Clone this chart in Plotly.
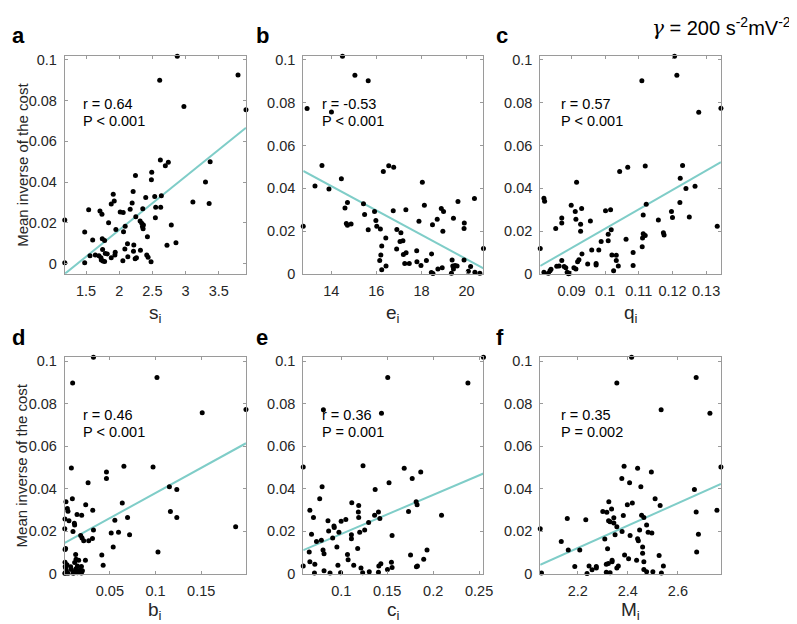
import plotly.graph_objects as go

# ---------------- data ----------------
# panel a : s_i
s_i = [1.18, 1.18, 2.875, 2.61, 3.79, 3.91, 2.975, 3.37, 2.62, 2.74, 2.695, 2.245, 2.49, 2.485, 3.30, 2.21,
       3.11, 3.355, 1.91, 1.925, 1.88, 2.195, 2.40, 2.535, 2.635, 1.54, 1.71, 1.74, 2.015, 2.06, 2.165, 2.355,
       2.55, 2.625, 2.25, 2.545, 2.315, 2.34, 2.365, 2.35, 2.36, 1.84, 1.95, 2.09, 2.065, 2.785, 1.48, 1.60,
       1.745, 1.78, 2.425, 2.125, 2.72, 2.855, 2.085, 2.22, 2.215, 2.32, 1.75, 1.79, 1.82, 1.94, 1.935, 1.56,
       1.64, 1.695, 1.725, 1.88, 2.13, 2.24, 2.26, 2.415, 2.435, 1.73, 1.755, 1.78, 1.48, 2.055, 2.48]
cost_s = [0.0214, 0.0005, 0.1018, 0.090, 0.0926, 0.0755, 0.0771, 0.050, 0.0509, 0.0498, 0.048, 0.0432, 0.0448,
          0.0412, 0.0401, 0.0354, 0.0303, 0.0295, 0.0341, 0.0308, 0.0293, 0.0298, 0.0325, 0.0329, 0.0333, 0.0264,
          0.0258, 0.0243, 0.0254, 0.0251, 0.0267, 0.0269, 0.0277, 0.0277, 0.023, 0.0225, 0.0209, 0.0198, 0.019,
          0.0182, 0.0171, 0.0201, 0.0167, 0.0184, 0.0156, 0.019, 0.0155, 0.0116, 0.0122, 0.0114, 0.0132, 0.0098,
          0.009, 0.0103, 0.0072, 0.0092, 0.0061, 0.0066, 0.0069, 0.005, 0.0048, 0.0056, 0.0043, 0.0039, 0.0042,
          0.0039, 0.0029, 0.0029, 0.0034, 0.0024, 0.0029, 0.0042, 0.0032, 0.0018, 0.0013, 0.0011, 0.0005, 0.0014,
          0.001]

# panel b : e_i
e_i = [14.50, 15.05, 15.64, 12.93, 14.01, 13.59, 13.28, 13.90, 14.45, 14.72, 14.61, 14.67, 14.72, 14.88, 12.76,
       15.43, 15.48, 15.64, 15.92, 15.98, 16.02, 16.18, 16.31, 16.55, 16.77, 16.75, 16.42, 16.24, 16.20, 16.15,
       16.24, 16.43, 16.91, 17.09, 17.05, 17.18, 16.90, 17.20, 17.32, 17.26, 17.46, 17.31, 17.79, 17.80, 17.89,
       17.98, 18.04, 18.13, 18.22, 18.45, 18.49, 18.70, 18.44, 18.51, 18.88, 18.98, 18.95, 18.73, 18.92, 19.42,
       19.62, 19.36, 19.39, 19.49, 19.58, 19.42, 19.33, 19.90, 19.89, 19.89, 20.08, 20.18, 20.35, 20.37, 20.59,
       20.75]
cost_e = [0.1018, 0.0929, 0.0903, 0.0773, 0.0757, 0.0507, 0.0411, 0.0397, 0.0445, 0.0334, 0.0308, 0.0235,
          0.0227, 0.0233, 0.0223, 0.0328, 0.0277, 0.0206, 0.0292, 0.025, 0.0223, 0.021, 0.0479, 0.0505, 0.0498,
          0.0295, 0.0168, 0.013, 0.0088, 0.0062, 0.0019, 0.0037, 0.0207, 0.0192, 0.0151, 0.0155, 0.0116, 0.0091,
          0.0099, 0.0049, 0.0048, 0.030, 0.0108, 0.0057, 0.0246, 0.0039, 0.0428, 0.0321, 0.0062, 0.0093, 0.023,
          0.0255, 0.0006, 0.0002, 0.0306, 0.0291, 0.0199, 0.0023, 0.0028, 0.026, 0.0338, 0.0065, 0.0037, 0.0039,
          0.0037, 0.0023, 0.0003, 0.0238, 0.0212, 0.0065, 0.0012, 0.0034, 0.0352, 0.0008, 0.0003, 0.0119]

# panel c : q_i
q_i = [0.1206, 0.1213, 0.1109, 0.1278, 0.1344, 0.1230, 0.1119, 0.1067, 0.1043, 0.0915, 0.1223, 0.1240, 0.1267,
       0.0818, 0.0820, 0.0899, 0.0930, 0.0911, 0.1001, 0.1016, 0.1122, 0.1222, 0.0871, 0.0871, 0.0913, 0.0956,
       0.0927, 0.1113, 0.1158, 0.1197, 0.1200, 0.1250, 0.1333, 0.0853, 0.0927, 0.1018, 0.1009, 0.1009, 0.0988,
       0.1062, 0.1113, 0.1119, 0.1111, 0.1110, 0.1173, 0.1175, 0.0807, 0.0960, 0.0981, 0.0931, 0.1020, 0.1033,
       0.1083, 0.0871, 0.0918, 0.0922, 0.1033, 0.0948, 0.0973, 0.0973, 0.1039, 0.1083, 0.0856, 0.0863, 0.0878,
       0.0883, 0.0907, 0.0913, 0.1025, 0.0836, 0.0839, 0.0831, 0.0818, 0.0887, 0.0891, 0.0894]
cost_q = [0.1018, 0.0929, 0.0903, 0.0756, 0.0774, 0.0507, 0.0504, 0.0498, 0.0479, 0.0428, 0.0447, 0.0399, 0.041,
          0.0354, 0.034, 0.0321, 0.0306, 0.0291, 0.0295, 0.030, 0.0326, 0.0334, 0.0261, 0.0238, 0.0255, 0.0247,
          0.0232, 0.0275, 0.0252, 0.0292, 0.0264, 0.0266, 0.0223, 0.0212, 0.0199, 0.0206, 0.0185, 0.0155, 0.0151,
          0.0162, 0.0187, 0.0179, 0.0168, 0.0127, 0.0192, 0.0182, 0.0119, 0.0111, 0.0111, 0.0093, 0.0088, 0.0087,
          0.010, 0.0063, 0.0057, 0.0066, 0.0062, 0.0046, 0.0049, 0.0042, 0.0037, 0.0039, 0.0036, 0.0037, 0.0034,
          0.0028, 0.0028, 0.0023, 0.0015, 0.0015, 0.0022, 0.0003, 0.0008, 0.0008, 0.0, 0.0003]

# panel d : b_i
b_i = [0.0321, 0.0093, 0.1016, 0.1511, 0.1990, 0.0654, 0.0973, 0.0079, 0.0463, 0.0463, 0.0262, 0.1152, 0.1233,
       0.0090, 0.0020, 0.0236, 0.0636, 0.0313, 0.0035, 0.0042, 0.1163, 0.0141, 0.0192, 0.0009, 0.0694, 0.1233,
       0.0555, 0.0053, 0.0112, 0.0115, 0.0097, 0.0321, 0.0007, 0.0515, 0.0595, 0.0181, 0.0196, 0.0214, 0.0269,
       0.0310, 0.0716, 0.1877, 0.0010, 0.0016, 0.0537, 0.1027, 0.0412, 0.0126, 0.0130, 0.0159, 0.0010, 0.0233,
       0.0031, 0.0115, 0.0427, 0.0012, 0.0015, 0.0071, 0.0145, 0.0189, 0.0079, 0.0130, 0.0170, 0.0024, 0.0115,
       0.0013, 0.0008, 0.0042, 0.0145, 0.0189, 0.0100, 0.0200]
cost_b = [0.1018, 0.0897, 0.0923, 0.0757, 0.0773, 0.0506, 0.0503, 0.0498, 0.0479, 0.0448, 0.0428, 0.041, 0.0397,
          0.0353, 0.0339, 0.0325, 0.0333, 0.0299, 0.0307, 0.0295, 0.0293, 0.0279, 0.0276, 0.0258, 0.0265, 0.0265,
          0.0252, 0.025, 0.0238, 0.023, 0.020, 0.0207, 0.0212, 0.0193, 0.0196, 0.0181, 0.0169, 0.0156, 0.0156,
          0.0167, 0.0184, 0.0222, 0.0115, 0.012, 0.0127, 0.0103, 0.0089, 0.0092, 0.0069, 0.0064, 0.0055, 0.0064,
          0.0043, 0.0054, 0.0041, 0.0035, 0.003, 0.0034, 0.0038, 0.0035, 0.0021, 0.0025, 0.0018, 0.0017, 0.0011,
          0.0005, 0.0003, 0.0003, 0.0006, 0.0005, 0.0003, 0.0015]

# panel e : c_i
c_i = [0.2547, 0.1506, 0.2378, 0.0806, 0.1438, 0.0587, 0.1237, 0.1685, 0.1865, 0.1772, 0.1520, 0.0792, 0.1369,
       0.0766, 0.0659, 0.1115, 0.1190, 0.1815, 0.1825, 0.1732, 0.2091, 0.0698, 0.1050, 0.1186, 0.1190, 0.1405,
       0.1420, 0.1363, 0.0856, 0.0999, 0.0921, 0.0924, 0.0863, 0.0975, 0.1201, 0.1255, 0.1298, 0.0677, 0.0731,
       0.0784, 0.0907, 0.1111, 0.1111, 0.1553, 0.0953, 0.1179, 0.0652, 0.0802, 0.0813, 0.1068, 0.1075, 0.1933,
       0.1754, 0.1897, 0.0587, 0.0659, 0.0713, 0.0964, 0.1136, 0.1215, 0.1409, 0.1431, 0.1546, 0.1553, 0.1503,
       0.1818, 0.1829, 0.0709, 0.0813, 0.0878, 0.0993, 0.1233, 0.1305, 0.1405]
cost_c = [0.1018, 0.0923, 0.0897, 0.0771, 0.0755, 0.0503, 0.0508, 0.0497, 0.0479, 0.0448, 0.0428, 0.041, 0.0397,
          0.0353, 0.0299, 0.0334, 0.0322, 0.0339, 0.0325, 0.0294, 0.0276, 0.0265, 0.0256, 0.0291, 0.0265, 0.0291,
          0.0261, 0.0276, 0.025, 0.0248, 0.0225, 0.0218, 0.0202, 0.0196, 0.0196, 0.0207, 0.0242, 0.0187, 0.0153,
          0.0158, 0.0169, 0.0166, 0.0184, 0.0181, 0.0127, 0.012, 0.0103, 0.0113, 0.0095, 0.0092, 0.0067, 0.0113,
          0.0089, 0.0069, 0.0038, 0.0058, 0.0046, 0.0041, 0.0041, 0.0028, 0.0037, 0.0048, 0.0055, 0.0031, 0.0021,
          0.0034, 0.0038, 0.0005, 0.0015, 0.0005, 0.0006, 0.0006, 0.0011, 0.0008]

# panel f : M_i
M_i = [2.415, 2.356, 2.673, 2.533, 2.728, 2.772, 2.385, 2.439, 2.494, 2.376, 2.407, 2.452, 2.666, 2.509, 2.324,
       2.398, 2.418, 2.529, 2.335, 2.300, 2.316, 2.673, 2.756, 2.382, 2.455, 2.464, 2.158, 2.232, 2.323, 2.329,
       2.344, 2.344, 2.356, 2.475, 2.377, 2.447, 2.481, 2.496, 2.050, 2.349, 2.409, 2.682, 2.308, 2.439, 2.442,
       2.134, 2.162, 2.208, 2.319, 2.459, 2.675, 2.387, 2.459, 2.525, 2.403, 2.337, 2.435, 2.337, 2.464, 2.314,
       2.322, 2.188, 2.245, 2.274, 2.274, 2.257, 2.362, 2.356, 2.542, 2.464, 2.475, 2.055, 2.237, 2.314, 2.329,
       2.500, 2.534]
cost_M = [0.1018, 0.0897, 0.0923, 0.0771, 0.0755, 0.0503, 0.0506, 0.0497, 0.0479, 0.0448, 0.0428, 0.041, 0.0397,
          0.0353, 0.0339, 0.0325, 0.0333, 0.0322, 0.0305, 0.0294, 0.029, 0.0291, 0.0299, 0.0275, 0.0276, 0.0265,
          0.0261, 0.0255, 0.025, 0.0245, 0.0264, 0.0239, 0.0222, 0.023, 0.0199, 0.0206, 0.0196, 0.0193, 0.0212,
          0.0184, 0.0181, 0.0187, 0.0164, 0.0166, 0.0156, 0.0153, 0.0113, 0.0113, 0.0118, 0.0127, 0.0103, 0.0089,
          0.0097, 0.0087, 0.0071, 0.0064, 0.0064, 0.0058, 0.0057, 0.0046, 0.0049, 0.0035, 0.0038, 0.0035, 0.0028,
          0.002, 0.0038, 0.0028, 0.0038, 0.0021, 0.0011, 0.0005, 0.0002, 0.0008, 0.0006, 0.0011, 0.0005]

# regression lines (x ends, y ends)
fit_s = ([1.18, 3.91], [-0.005, 0.0667])
fit_e = ([12.76, 20.75], [0.0481, 0.0026])
fit_q = ([0.0807, 0.1344], [0.0037, 0.0522])
fit_b = ([0.0007, 0.1990], [0.0146, 0.0614])
fit_c = ([0.0587, 0.2547], [0.0112, 0.0472])
fit_M = ([2.050, 2.772], [0.0043, 0.0423])

r_texts = ["r = 0.64", "r = -0.53", "r = 0.57", "r = 0.46", "r = 0.36", "r = 0.35"]
p_texts = ["P &lt; 0.001", "P &lt; 0.001", "P &lt; 0.001", "P &lt; 0.001", "P = 0.001", "P = 0.002"]
letters = ["a", "b", "c", "d", "e", "f"]
xtitles = ["s<sub>i</sub>", "e<sub>i</sub>", "q<sub>i</sub>", "b<sub>i</sub>", "c<sub>i</sub>", "M<sub>i</sub>"]
ylabel = "Mean inverse of the cost"

x_ticks = [[1.5, 2, 2.5, 3, 3.5], [14, 16, 18, 20], [0.09, 0.1, 0.11, 0.12, 0.13],
           [0.05, 0.1, 0.15], [0.1, 0.15, 0.2, 0.25], [2.2, 2.4, 2.6]]
x_ticktext = [["1.5", "2", "2.5", "3", "3.5"], ["14", "16", "18", "20"], ["0.09", "0.1", "0.11", "0.12", "0.13"],
              ["0.05", "0.1", "0.15"], ["0.1", "0.15", "0.2", "0.25"], ["2.2", "2.4", "2.6"]]
y_ticks = [0, 0.02, 0.04, 0.06, 0.08, 0.1]
y_ticktext = ["0", "0.02", "0.04", "0.06", "0.08", "0.1"]
x_ranges = [[1.18, 3.91], [12.76, 20.75], [0.0807, 0.1344], [0.0007, 0.199], [0.0587, 0.2547], [2.05, 2.772]]
y_ranges = [[-0.005, 0.1018], [0, 0.1018], [0, 0.1018], [0, 0.1018], [0, 0.1018], [0, 0.1018]]

# ---------------- figure ----------------
W, H = 797, 624
FONT = "Liberation Sans, Arial, sans-serif"
col_px = [(57.5, 241.0), (299.0, 481.5), (539.0, 722.0)]
row_px = [(45.0, 267.0), (352.0, 573.0)]

xs = [s_i, e_i, q_i, b_i, c_i, M_i]
ys = [cost_s, cost_e, cost_q, cost_b, cost_c, cost_M]
fits = [fit_s, fit_e, fit_q, fit_b, fit_c, fit_M]

fig = go.Figure()
layout = dict(width=W, height=H, margin=dict(l=0, r=0, t=0, b=0), showlegend=False,
              paper_bgcolor="white", plot_bgcolor="white", font=dict(family=FONT, color="#262626"))
annotations = []

def px2x(p):
    return p / W

def px2y(p):
    return 1 - p / H

for k in range(6):
    r, c = divmod(k, 3)
    xa = "x" if k == 0 else f"x{k+1}"
    ya = "y" if k == 0 else f"y{k+1}"
    fig.add_trace(go.Scatter(x=fits[k][0], y=fits[k][1], mode="lines", xaxis=xa, yaxis=ya,
                             line=dict(color="#7fcdc8", width=2), hoverinfo="skip"))
    fig.add_trace(go.Scatter(x=xs[k], y=ys[k], mode="markers", xaxis=xa, yaxis=ya, cliponaxis=False,
                             marker=dict(color="black", size=5)))
    x0, x1 = col_px[c]
    y0, y1 = row_px[r]
    common = dict(showline=True, linecolor="#9a9a9a", linewidth=1, mirror="ticks", ticks="inside",
                  ticklen=3, tickcolor="#9a9a9a", showgrid=False, zeroline=False,
                  tickfont=dict(family=FONT, size=14.5, color="#262626"))
    layout["xaxis" if k == 0 else f"xaxis{k+1}"] = dict(
        domain=[px2x(x0), px2x(x1)], anchor=ya, range=x_ranges[k],
        tickvals=x_ticks[k], ticktext=x_ticktext[k], ticklabelstandoff=4, **common)
    layout["yaxis" if k == 0 else f"yaxis{k+1}"] = dict(
        domain=[px2y(y1), px2y(y0)], anchor=xa, range=y_ranges[k],
        tickvals=y_ticks, ticktext=y_ticktext, ticklabelstandoff=4, **common)

    # stats text
    sx = x0 + (16.5 if c < 2 else 19)
    sy = y0 + (49 if r == 0 else 59)
    annotations.append(dict(text=r_texts[k], xref="paper", yref="paper", x=px2x(sx), y=px2y(sy),
                            xanchor="left", yanchor="middle", showarrow=False,
                            font=dict(family=FONT, size=14.5, color="black")))
    annotations.append(dict(text=p_texts[k], xref="paper", yref="paper", x=px2x(sx), y=px2y(sy + 17),
                            xanchor="left", yanchor="middle", showarrow=False,
                            font=dict(family=FONT, size=14.5, color="black")))
    # panel letter
    lx = [2, 249, 492][c]
    ly = [24, 332][r]
    annotations.append(dict(text=f"<b>{letters[k]}</b>", xref="paper", yref="paper", x=px2x(lx), y=px2y(ly),
                            xanchor="left", yanchor="middle", showarrow=False,
                            font=dict(family=FONT, size=22, color="black")))
    # x title
    tx = (x0 + x1) / 2
    ty = [308, 611][r]
    annotations.append(dict(text=xtitles[k], xref="paper", yref="paper", x=px2x(tx), y=px2y(ty),
                            xanchor="center", yanchor="middle", showarrow=False,
                            font=dict(family=FONT, size=19, color="#262626")))
    # y title (first column)
    if c == 0:
        annotations.append(dict(text=ylabel, xref="paper", yref="paper", x=px2x(14), y=px2y((y0 + y1) / 2),
                                xanchor="center", yanchor="middle", textangle=-90, showarrow=False,
                                font=dict(family=FONT, size=15, color="#262626")))

annotations.append(dict(
    text="<span style=\"font-family:'DejaVu Serif';font-style:italic\">γ</span> = 200 s<sup>-2</sup>mV<sup>-2</sup>",
    xref="paper", yref="paper", x=px2x(795), y=px2y(15), xanchor="right", yanchor="middle", showarrow=False,
    font=dict(family=FONT, size=20, color="black")))

layout["annotations"] = annotations
fig.update_layout(**layout)
fig.write_html("out.html")
